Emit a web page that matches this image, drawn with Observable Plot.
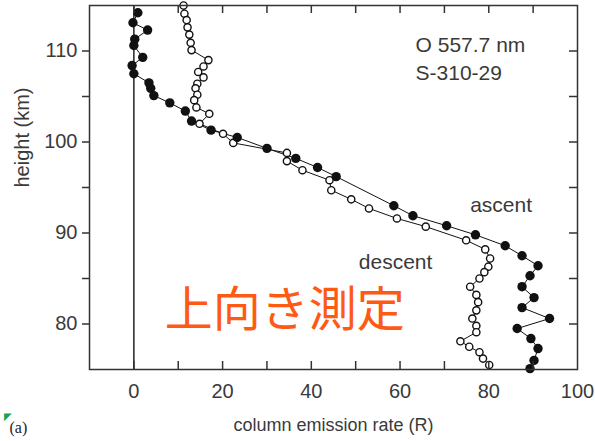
<!DOCTYPE html>
<html>
<head>
<meta charset="utf-8">
<script src="https://cdn.jsdelivr.net/npm/d3@7"></script>
<script src="https://cdn.jsdelivr.net/npm/@observablehq/plot@0.6"></script>
<style>
  html, body { margin: 0; padding: 0; background: #fff; }
  #chart { width: 595px; height: 441px; }
</style>
</head>
<body>
<div id="chart"></div>
<script>
// O 557.7 nm column emission rate profiles, rocket S-310-29
const ascentHeight = [114.2, 113.1, 112.3, 111.3, 110.6, 109.3, 108.4, 107.5, 106.5, 105.9, 105.1, 104.3, 103.4, 102.3, 101.3, 100.5, 99.3, 98.2, 97.2, 96.2, 93.0, 91.9, 90.8, 89.8, 88.6, 87.5, 86.4, 85.3, 84.1, 82.9, 81.8, 80.6, 79.5, 78.4, 77.3, 76.0, 75.1];
const ascentRate = [0.9, -0.2, 3.1, 0.2, 0.0, 2.0, -0.4, 0.0, 3.4, 3.8, 4.5, 8.1, 11.6, 13.0, 17.4, 23.3, 30.0, 36.5, 41.4, 45.6, 58.6, 62.9, 70.5, 77.0, 83.7, 87.5, 91.1, 89.3, 87.5, 90.2, 87.5, 93.7, 86.4, 89.5, 91.1, 90.2, 89.3];

const descentHeight = [115.0, 114.1, 113.4, 112.6, 111.8, 110.9, 110.1, 109.0, 108.3, 107.7, 107.1, 106.4, 105.9, 105.2, 104.6, 103.8, 103.1, 102.0, 100.9, 99.9, 98.8, 97.9, 96.9, 95.8, 94.7, 93.7, 92.7, 91.6, 90.7, 89.2, 88.2, 87.2, 86.3, 85.7, 85.0, 84.1, 83.2, 82.4, 81.5, 80.6, 79.8, 79.1, 78.1, 77.5, 76.9, 76.2, 75.5];
const descentRate = [11.2, 11.4, 11.9, 12.1, 12.5, 12.8, 13.0, 16.8, 15.7, 14.5, 15.7, 14.3, 13.9, 14.3, 13.6, 14.1, 17.0, 14.8, 20.1, 22.4, 34.5, 34.5, 38.0, 44.1, 44.5, 49.0, 53.0, 59.3, 65.8, 74.9, 79.2, 80.3, 79.9, 79.0, 77.9, 75.8, 77.2, 77.6, 77.2, 76.3, 77.2, 77.2, 73.6, 75.6, 77.9, 78.7, 80.1];

const xTickValues = [0, 10, 20, 30, 40, 50, 60, 70, 80, 90];
const xTickLabels = [0, 20, 40, 60, 80, 100];
const yTickValues = [80, 85, 90, 95, 100, 105, 110];
const yTickLabels = [80, 90, 100, 110];

const ascent = ascentHeight.map((h, i) => ({h, rate: ascentRate[i]}));
const descent = descentHeight.map((h, i) => ({h, rate: descentRate[i]}));

const W = 595, H = 441;
const mL = 89, mR = 18, mT = 5, mB = 72;
const innerW = W - mL - mR, innerH = H - mT - mB;
const ink = "#222";
const textInk = "#3a3a3a";
const sans = "'Liberation Sans', Arial, sans-serif";

const chart = Plot.plot({
  width: W,
  height: H,
  marginLeft: mL,
  marginRight: mR,
  marginTop: mT,
  marginBottom: mB,
  x: {domain: [-10, 100]},
  y: {domain: [75, 115]},
  style: {fontFamily: sans, background: "#fff", color: textInk, overflow: "visible"},
  marks: [
    // zero reference line
    Plot.ruleX([0], {stroke: ink, strokeWidth: 1.5}),
    // profiles
    Plot.line(descent, {x: "rate", y: "h", stroke: "#111", strokeWidth: 1}),
    Plot.line(ascent, {x: "rate", y: "h", stroke: "#111", strokeWidth: 1}),
    Plot.dot(descent, {x: "rate", y: "h", r: 3.6, fill: "#fff", stroke: "#111", strokeWidth: 1.4}),
    Plot.dot(ascent, {x: "rate", y: "h", r: 4.7, fill: "#111", stroke: "none"}),
    // box with inward ticks on top, bottom and right
    Plot.frame({stroke: "#333", strokeWidth: 1.5}),
    Plot.tickX(xTickValues, {x: d => d, insetTop: innerH - 8, stroke: "#333", strokeWidth: 1.5}),
    Plot.tickX(xTickValues, {x: d => d, insetBottom: innerH - 8, stroke: "#333", strokeWidth: 1.5}),
    Plot.tickY(yTickValues, {y: d => d, insetLeft: innerW - 8, stroke: "#333", strokeWidth: 1.5}),
    // axes
    Plot.axisY({
      ticks: yTickValues, anchor: "left", tickSize: 7, tickPadding: 5,
      tickFormat: d => yTickLabels.includes(d) ? String(d) : "",
      fontSize: 20, label: null, stroke: "#333", strokeWidth: 1.5, fill: textInk
    }),
    Plot.axisX({
      ticks: xTickLabels, anchor: "bottom", tickSize: 0, tickPadding: 14,
      fontSize: 20, label: null, fill: textInk
    }),
    // axis titles
    Plot.text(["height (km)"], {frameAnchor: "left", dx: -67, rotate: -90, fontSize: 20, fill: textInk}),
    Plot.text(["column emission rate (R)"], {frameAnchor: "bottom", dy: 61, fontSize: 18, fill: textInk}),
    // annotations
    Plot.text(["O 557.7 nm"], {x: 63.5, y: 110.6, textAnchor: "start", fontSize: 21, fill: textInk}),
    Plot.text(["S-310-29"], {x: 63.5, y: 107.6, textAnchor: "start", fontSize: 21, fill: textInk}),
    Plot.text(["ascent"], {x: 75.8, y: 93.0, textAnchor: "start", fontSize: 21, fill: textInk}),
    Plot.text(["descent"], {x: 50.7, y: 86.8, textAnchor: "start", fontSize: 21, fill: textInk}),
    Plot.text(["上向き測定"], {
      x: 34, y: 81.5, fontSize: 48, fill: "#ff5a14",
      fontFamily: "'Noto Sans CJK JP', sans-serif"
    }),
    // panel label
    Plot.text(["(a)"], {frameAnchor: "bottom-left", dx: -80, dy: 63, textAnchor: "start", fontSize: 16, fill: "#222", fontFamily: "'Liberation Serif', serif"}),
    Plot.text(["◤"], {frameAnchor: "bottom-left", dx: -86, dy: 50, fontSize: 10, fill: "#1aa34a"})
  ]
});

document.getElementById("chart").appendChild(chart);
</script>
</body>
</html>
